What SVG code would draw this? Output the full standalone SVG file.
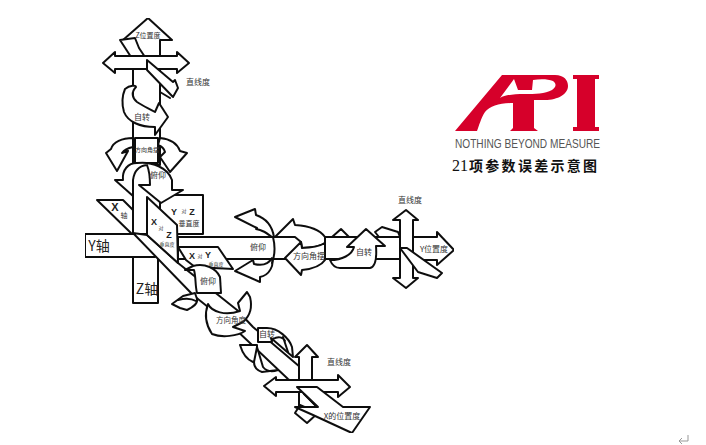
<svg xmlns="http://www.w3.org/2000/svg" width="706" height="445" viewBox="0 0 706 445">
<defs>
<style>
.s{fill:#fff;stroke:#111;stroke-width:2;stroke-linejoin:round}
.l{fill:none;stroke:#111;stroke-width:2;stroke-linecap:round}
text{font-family:"Noto Sans CJK SC","Liberation Sans",sans-serif;fill:#333;text-anchor:middle}
.a{font-size:8px}.b{font-size:7px}.c{font-size:5px}.d{font-size:14px;fill:#222}
.e{font-size:9px;font-weight:bold;font-family:"Liberation Sans",sans-serif;fill:#222}
</style>
<filter id="soft" x="0" y="0" width="100%" height="100%"><feGaussianBlur stdDeviation="0.3"/></filter>
</defs>
<rect width="706" height="445" fill="#fff"/>
<g id="mechanism" filter="url(#soft)">
<g id="z-axis">
<path class="s" d="M133,234V303H158V255"/>
<path class="s" d="M148,18L172,40H160V165H133V40H123Z"/>
<path class="l" d="M133,165V235"/>
<path class="s" d="M120,40L135,38L139,48L147,60H133Z"/>
<path class="s" d="M103,63L115,52V56H177V52L189,63L177,73V69H115V73Z"/>
<path class="s" d="M147,60L173,82L175,80L178,88L173,97L147,70Z"/>
<path class="l" d="M160,92L170,98"/>
<path class="s" d="M125,89C130,85 136,85 136,87C131,92 132,98 137,102C143,106 150,109 155,112L159,103L168,117L155,135L155,127C140,127 128,122 124,112C122,105 122,96 125,89Z"/>
<path class="s" d="M133,138C122,138 113,142 111,149L106,153L117,171L128,151L122,153C124,150 128,148 133,147Z"/>
<path class="s" d="M160,138C170,139 177,143 180,151L187,153L170,172L160,157L165,152C164,148 161,146 158,145Z"/>
<path class="s" d="M135,138H158V163H135Z"/>
<path class="s" d="M160,195H203V234H160Z"/>
<path class="s" d="M115,180H123C122,170 128,163 137,163C152,161 168,168 172,180V190H183L161,203L139,185H150C150,177 149,170 147,165C138,166 134,172 133,180V196Z"/>
</g>
<g id="x-axis-tag">
<path class="s" d="M97,200H123L133,210V235Z"/>
</g>
<g id="y-axis">
<path class="s" d="M85,234H155V257H85Z"/>
<path class="s" d="M178,237H400V259H178Z"/>
<path class="s" d="M178,247H218L233,269L195,267L186,260Z"/>
</g>
<g id="x-axis">
<path class="s" d="M133,233L147,235L178,263L237,310L253,327L300,367L317,407L298,387L288,379L233,327L193,295Z"/>
<path class="s" d="M147,197L177,225L178,263L147,235Z"/>
</g>
<g id="x-pitch">
<path class="s" d="M185,270L193,266C205,263 216,268 220,277L221,293H197C195,285 196,277 194,270Z"/>
<path class="s" d="M172,304L183,296L195,293L197,299C198,304 193,307 187,310L180,308Z"/>
<path class="l" d="M178,300C185,298 191,298 196,301"/>
<path class="s" d="M208,304C212,312 225,316 240,311L238,303L247,292L250,297C252,305 251,315 243,322L233,327L245,331C238,336 222,338 212,334C206,325 204,315 208,304Z"/>
</g>
<g id="x-roll">
<path class="s" d="M258,328H267C278,328 289,338 292,347L293,357L271,338L272,342H258Z"/>
<path class="l" d="M273,339C278,336 283,337 285,341M283,337L288,352"/>
<path class="s" d="M240,345H257V360L253,362C248,360 243,355 240,345Z"/>
<path class="s" d="M254,362L257,347L263,367C267,372 272,372 278,370L262,372C256,370 254,366 254,362Z"/>
</g>
<g id="x-cross">
<path class="s" d="M300,380H299V357H295L307,345L318,357H312V380Z"/>
<path class="s" d="M264,386L276,377V380H338V375L350,387L338,397V392H276V396Z"/>
<path class="s" d="M295,413L307,423L318,413L300,405Z"/>
<path class="s" d="M297,387H317L343,407H370L352,433L313,415L295,407H318L297,387Z"/>
<path class="l" d="M299,392V408M317,407L304,394"/>
</g>
<g id="y-pitch">
<path class="s" d="M235,217L255,209L256,215C265,218 272,225 274,237L272,237C265,232 262,230 256,229L257,228Z"/>
<path class="s" d="M235,271L253,260L254,264C262,266 268,265 272,258C274,265 270,275 260,277L260,282Z"/>
<path class="l" d="M273,237C275,245 275,255 272,263"/>
</g>
<g id="y-yaw">
<path class="s" d="M275,237L293,219L295,225C310,226 320,230 325,237V243C320,247 312,247 302,248L301,242L295,237Z"/>
<path class="s" d="M285,258L301,242L302,248C312,248 320,246 325,243V260C321,266 312,269 302,270L301,275Z"/>
</g>
<g id="y-roll">
<path class="s" d="M332,237L341,229L349,237Z"/>
<path class="s" d="M375,232L382,227L398,232L400,237H379Z"/>
<path class="s" d="M330,260C332,265 336,268 340,268H370C375,267 377,260 376,246H385L366,229L347,247H354C352,255 342,260 330,260Z"/>
</g>
<g id="y-cross">
<path class="s" d="M413,237H437V232L454,250L437,265V260H413Z"/>
<path class="s" d="M406,210L418,220H413V278H418L406,288L393,278H400V220H393Z"/>
<path class="s" d="M400,248H407L442,273L437,278L418,272Z"/>
</g>
</g>
<g id="labels">
<text class="b" x="148" y="38">Z位置度</text>
<text class="a" x="198" y="85">直线度</text>
<text class="a" x="142" y="120">自转</text>
<text class="c" x="147" y="152" style="font-size:6px">方向角摆</text>
<text class="a" x="158" y="178">俯仰</text>
<text class="e" x="115" y="211" style="font-size:11px">X</text><text class="b" x="124" y="218">轴</text>
<text class="d" x="99" y="251">Y轴</text><text class="d" x="147" y="294">Z轴</text>
<text class="e" x="154" y="225">X</text><text class="c" x="161" y="230">对</text><text class="e" x="169" y="238">Z</text><text class="c" x="167" y="246">垂直度</text>
<text class="e" x="174" y="215">Y</text><text class="c" x="184" y="213">对</text><text class="e" x="192" y="215">Z</text><text class="b" x="189" y="226">垂直度</text>
<text class="e" x="192" y="259">X</text><text class="c" x="200" y="258">对</text><text class="e" x="208" y="258">Y</text><text class="c" x="216" y="266">垂直度</text>
<text class="a" x="208" y="284">俯仰</text>
<text class="a" x="258" y="250">俯仰</text>
<text class="a" x="309" y="259">方向角摆</text>
<text class="a" x="364" y="255">自转</text>
<text class="a" x="410" y="203">直线度</text>
<text class="a" x="434" y="252">Y位置度</text>
<text x="231" y="323" style="font-size:7.500px">方向角度</text>
<text class="a" x="267" y="337">自转</text>
<text class="a" x="339" y="365">直线度</text>
<text class="a" x="342" y="419">X的位置度</text>
</g>
<g id="logo">
<path fill="#d6002a" fill-rule="evenodd" d="M455,131L502,75H555C564,75 568,80 568,86C568,94 558,100 545,100H534V128L538,131H510L513,128V103C500,103 490,106 485,112C481,118 479,126 477,131ZM500,98C505,95 513,94 525,94C535,94 545,94 552,90C556,87 557,84 553,81C548,79 540,79 533,80L532,90H518L514,79Z"/>
<path fill="#d6002a" d="M573,75H599V79H595V127H599V131H573V127H577V79H573Z"/>
<text x="527.500" y="148" textLength="145" lengthAdjust="spacingAndGlyphs" style="font-family:'Liberation Sans',sans-serif;font-size:12px;fill:#555">NOTHING BEYOND MEASURE</text>
<text x="452" y="171" style="text-anchor:start;font-size:14px;font-weight:bold;fill:#111"><tspan style="font-family:'Liberation Serif',serif;font-size:16px;font-weight:normal">21</tspan><tspan x="469" letter-spacing="2.300">项参数误差示意图</tspan></text>
</g>
<g id="return-mark"><path d="M688,435V441H679M682,438L679,441L682,444" fill="none" stroke="#999" stroke-width="1"/></g>
</svg>
